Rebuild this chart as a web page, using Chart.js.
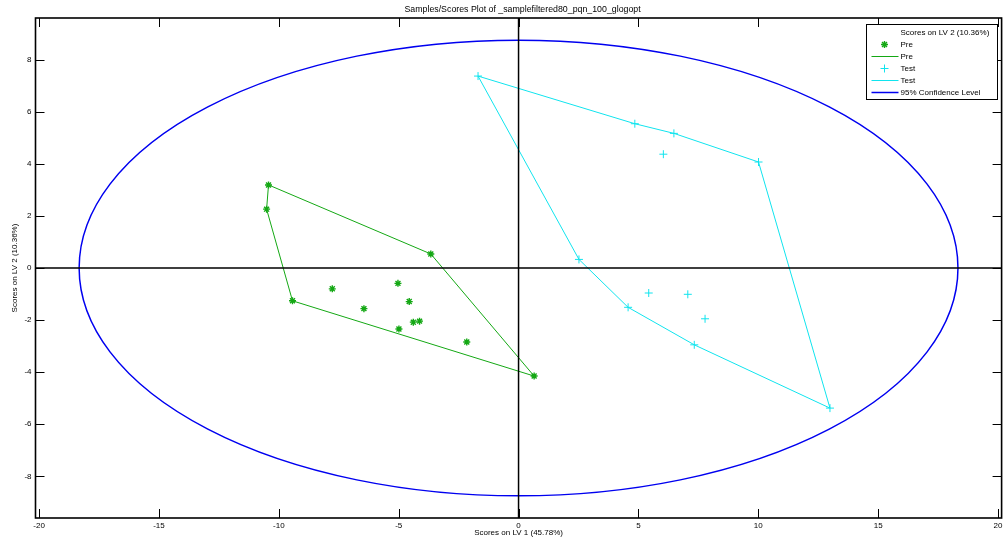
<!DOCTYPE html>
<html><head><meta charset="utf-8">
<script src="https://cdn.jsdelivr.net/npm/chart.js@4.4.0/dist/chart.umd.min.js"></script>
<style>html,body{margin:0;padding:0;background:#fff;overflow:hidden}canvas{display:block}</style>
</head><body>
<div style="width:1007px;height:550px"><canvas id="c" width="1007" height="550"></canvas></div>
<script>
const chartTitle = 'Samples/Scores Plot of _samplefiltered80_pqn_100_glogopt';
const xAxisTitle = 'Scores on LV 1 (45.78%)';
const yAxisTitle = 'Scores on LV 2 (10.36%)';
const legendTitle = 'Scores on LV 2 (10.36%)';
const seriesNames = ['Pre', 'Test'];
const confidenceLabel = '95% Confidence Level';
const xTicks = [-20, -15, -10, -5, 0, 5, 10, 15, 20];
const yTicks = [-8, -6, -4, -2, 0, 2, 4, 6, 8];
const xLimits = [-20.15, 20.15];
const yLimits = [-9.6, 9.6];

const preX = [-10.43, -10.51, -9.43, 0.65, -3.66, -7.77, -6.45, -5.03, -4.56, -4.39, -4.13, -4.99, -2.16];
const preY = [3.19, 2.26, -1.26, -4.15, 0.54, -0.80, -1.56, -0.59, -1.29, -2.08, -2.04, -2.34, -2.84];
const preHull = [0, 4, 3, 2, 1, 0];

const testX = [-1.69, 4.85, 6.48, 10.01, 12.99, 7.33, 4.57, 2.52, 6.04, 5.43, 7.06, 7.78];
const testY = [7.37, 5.54, 5.17, 4.07, -5.38, -2.95, -1.51, 0.33, 4.37, -0.96, -1.01, -1.95];
const testHull = [0, 1, 2, 3, 4, 5, 6, 7, 0];

const confidenceCenter = [0, 0];
const confidenceRadii = [18.33, 8.75];

const FONT = "'Liberation Sans', Arial, sans-serif";
const GREEN = '#14a814';
const CYAN = '#10e4ee';
const BLUE = '#0000f0';

const pts = (xs, ys) => xs.map((v, i) => ({x: v, y: ys[i]}));
const hull = (xs, ys, idx) => idx.map(i => ({x: xs[i], y: ys[i]}));

const framePlugin = {
  id: 'frame',
  afterDatasetsDraw(chart) {
    const {ctx, chartArea: a, scales: {x, y}} = chart;
    ctx.save();
    ctx.beginPath(); ctx.rect(a.left, a.top, a.right - a.left, a.bottom - a.top); ctx.clip();
    const cx = x.getPixelForValue(confidenceCenter[0]);
    const cy = y.getPixelForValue(confidenceCenter[1]);
    const rx = x.getPixelForValue(confidenceCenter[0] + confidenceRadii[0]) - cx;
    const ry = cy - y.getPixelForValue(confidenceCenter[1] + confidenceRadii[1]);
    ctx.beginPath(); ctx.ellipse(cx, cy, rx, ry, 0, 0, Math.PI * 2);
    ctx.strokeStyle = BLUE; ctx.lineWidth = 1.5; ctx.stroke();
    const x0 = x.getPixelForValue(0), y0 = y.getPixelForValue(0);
    ctx.strokeStyle = '#000'; ctx.lineWidth = 1.5;
    ctx.beginPath(); ctx.moveTo(x0, a.top); ctx.lineTo(x0, a.bottom);
    ctx.moveTo(a.left, y0); ctx.lineTo(a.right, y0); ctx.stroke();
    ctx.restore();
    ctx.save();
    ctx.strokeStyle = '#000'; ctx.lineWidth = 1.6;
    ctx.strokeRect(a.left, a.top, a.right - a.left, a.bottom - a.top);
    const tl = 9;
    ctx.lineWidth = 1;
    ctx.beginPath();
    xTicks.forEach(v => {
      const px = Math.round(x.getPixelForValue(v)) + 0.5;
      ctx.moveTo(px, a.bottom); ctx.lineTo(px, a.bottom - tl);
      ctx.moveTo(px, a.top); ctx.lineTo(px, a.top + tl);
    });
    yTicks.forEach(v => {
      const py = Math.round(y.getPixelForValue(v)) + 0.5;
      ctx.moveTo(a.left, py); ctx.lineTo(a.left + tl, py);
      ctx.moveTo(a.right, py); ctx.lineTo(a.right - tl, py);
    });
    ctx.stroke();
    ctx.restore();
  },
  afterDraw(chart) {
    const {ctx, chartArea: a} = chart;
    ctx.save();
    ctx.font = '8.8px ' + FONT; ctx.fillStyle = '#000'; ctx.textAlign = 'center'; ctx.textBaseline = 'middle';
    ctx.fillText(chartTitle, (a.left + a.right) / 2 + 4, 10);
    const w = 131, h = 75;
    const L = Math.round(a.right - 5 - w) + 0.5, T = Math.round(a.top + 6) + 0.5;
    ctx.fillStyle = '#fff'; ctx.fillRect(L, T, w, h);
    ctx.strokeStyle = '#000'; ctx.lineWidth = 1; ctx.strokeRect(L, T, w, h);
    ctx.font = '8px ' + FONT; ctx.fillStyle = '#000'; ctx.textBaseline = 'middle'; ctx.textAlign = 'left';
    const tx = L + 34, sx0 = L + 5, sx1 = L + 32, mx = L + 18;
    ctx.fillText(legendTitle, tx, T + 8);
    const rows = [
      {label: seriesNames[0], kind: 'marker', ds: 0},
      {label: seriesNames[0], kind: 'line', ds: 1},
      {label: seriesNames[1], kind: 'marker', ds: 2},
      {label: seriesNames[1], kind: 'line', ds: 3},
      {label: confidenceLabel, kind: 'line', color: BLUE}
    ];
    rows.forEach((r, i) => {
      const yy = T + 20 + i * 12;
      if (r.kind === 'marker') {
        const d = chart.data.datasets[r.ds];
        ctx.strokeStyle = d.borderColor; ctx.fillStyle = d.backgroundColor; ctx.lineWidth = d.borderWidth;
        Chart.helpers.drawPoint(ctx, {pointStyle: d.pointStyle, radius: d.pointRadius, borderWidth: d.borderWidth, rotation: 0}, mx, yy);
      } else {
        const c = r.color || chart.data.datasets[r.ds].borderColor;
        ctx.strokeStyle = c; ctx.lineWidth = r.color ? 1.5 : 1;
        ctx.beginPath(); ctx.moveTo(sx0, yy); ctx.lineTo(sx1, yy); ctx.stroke();
      }
      ctx.fillStyle = '#000';
      ctx.fillText(r.label, tx, yy);
    });
    ctx.restore();
  }
};

new Chart(document.getElementById('c'), {
  type: 'scatter',
  data: {
    datasets: [
      {label: seriesNames[0], data: pts(preX, preY), pointStyle: 'star', pointRadius: 3.5, borderWidth: 1.4,
       borderColor: GREEN, backgroundColor: GREEN, showLine: false, order: 1},
      {label: seriesNames[0], type: 'line', data: hull(preX, preY, preHull), borderColor: GREEN, backgroundColor: GREEN,
       borderWidth: 1, pointRadius: 0, fill: false, tension: 0, order: 2},
      {label: seriesNames[1], data: pts(testX, testY), pointStyle: 'cross', pointRadius: 4, borderWidth: 1,
       borderColor: CYAN, backgroundColor: CYAN, showLine: false, order: 1},
      {label: seriesNames[1], type: 'line', data: hull(testX, testY, testHull), borderColor: CYAN, backgroundColor: CYAN,
       borderWidth: 1, pointRadius: 0, fill: false, tension: 0, order: 2}
    ]
  },
  options: {
    responsive: false, animation: false, events: [],
    layout: {padding: {left: 0, right: 2, top: 18, bottom: 0}},
    plugins: {
      legend: {display: false}, tooltip: {enabled: false}, title: {display: false}
    },
    scales: {
      x: {
        type: 'linear', position: 'bottom', min: xLimits[0], max: xLimits[1],
        afterBuildTicks: s => { s.ticks = xTicks.map(v => ({value: v})); },
        afterFit: s => { s.height = 32; },
        grid: {display: false, drawTicks: false}, border: {display: false},
        ticks: {color: '#000', font: {family: FONT, size: 8}, padding: 3, maxRotation: 0, autoSkip: false},
        title: {display: true, text: xAxisTitle, color: '#000', font: {family: FONT, size: 8}, padding: {top: 0, bottom: 12}}
      },
      y: {
        type: 'linear', position: 'left', min: yLimits[0], max: yLimits[1],
        afterBuildTicks: s => { s.ticks = yTicks.map(v => ({value: v})); },
        afterFit: s => { s.width = 35.5; },
        grid: {display: false, drawTicks: false}, border: {display: false},
        ticks: {color: '#000', font: {family: FONT, size: 8}, padding: 4, autoSkip: false},
        title: {display: true, text: yAxisTitle, color: '#000', font: {family: FONT, size: 8}, padding: {top: 10, bottom: 0}}
      }
    }
  },
  plugins: [framePlugin]
});
</script>
</body></html>
